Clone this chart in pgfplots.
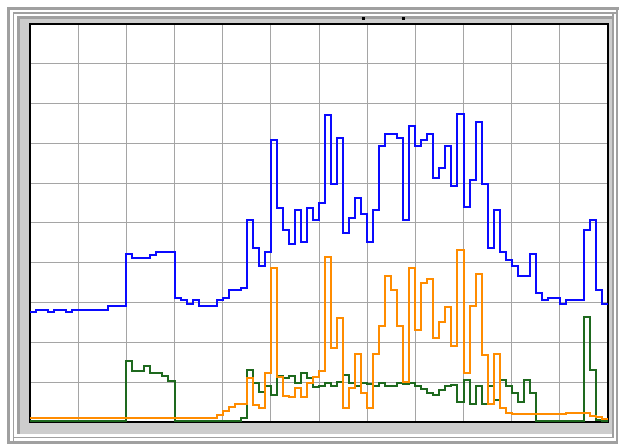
\documentclass[border=0pt]{standalone}
\usepackage{pgfplots}
\usepackage{pgfplotstable}
\pgfplotsset{compat=1.18}
\definecolor{cblue}{RGB}{10,10,255}
\definecolor{corange}{RGB}{255,140,0}
\definecolor{cgreen}{RGB}{30,105,30}
\definecolor{fgray}{RGB}{160,160,160}
\definecolor{pgray}{RGB}{205,205,205}
\definecolor{ggray}{RGB}{165,165,165}

\pgfplotstableread{
x y
0 27.7
1 28.1
2 28.1
3 27.7
4 28.1
5 28.1
6 27.7
7 28.1
8 28.1
9 28.1
10 28.1
11 28.1
12 28.1
13 29.1
14 29.1
15 29.1
16 42.2
17 41.3
18 41.3
19 41.3
20 42.0
21 42.6
22 42.6
23 42.6
24 31.1
25 30.7
26 29.6
27 30.7
28 29.1
29 29.1
30 29.1
31 30.7
32 31.1
33 33.2
34 33.2
35 33.6
36 50.8
37 43.8
38 39.3
39 42.6
40 70.9
41 53.7
42 48.2
43 44.7
44 53.3
45 45.1
46 53.7
47 50.8
48 55.1
49 77.1
50 59.7
51 71.3
52 47.6
53 51.2
54 56.2
55 52.2
56 45.2
57 53.3
58 69.3
59 72.4
60 72.4
61 71.4
62 50.8
63 74.4
64 69.4
65 70.9
66 72.4
67 61.2
68 63.9
69 69.3
70 59.3
71 77.4
72 54.1
73 60.8
74 75.3
75 59.7
76 43.8
77 53.3
78 42.6
79 40.7
80 39.3
81 36.8
82 36.8
83 42.2
84 32.3
85 30.7
86 31.1
87 31.1
88 29.6
89 30.7
90 30.7
91 30.7
92 48.2
93 50.8
94 33.2
95 29.6
96 29.6
}\blueseries

\pgfplotstableread{
x y
0 0.9
30 0.9
31 1.8
32 2.8
33 3.7
34 4.4
35 4.4
36 11.0
37 4.3
38 3.4
39 12.4
40 38.6
41 11.4
42 6.5
43 6.2
44 8.6
45 6.4
46 9.7
47 11.4
48 12.9
49 41.5
50 18.5
51 26.1
52 3.4
53 8.5
54 17.0
55 7.3
56 3.4
57 17.0
58 24.0
59 36.6
60 33.1
61 24.0
62 10.0
63 38.6
64 23.1
65 35.0
66 35.9
67 21.0
68 25.2
69 29.0
70 19.1
71 43.2
72 12.2
73 29.2
74 37.1
75 16.8
76 4.4
77 17.0
78 3.4
79 2.2
80 1.9
88 1.9
89 2.3
92 2.3
93 1.6
94 1.2
95 0.8
96 0.8
}\orangeseries

\pgfplotstableread{
x y
0 0.3
15 0.3
16 15.4
17 12.8
18 12.8
19 14.0
20 12.2
21 12.2
22 11.6
23 10.4
24 0.3
34 0.3
35 1.0
36 13.1
37 9.7
38 7.6
39 9.1
40 6.8
41 11.6
42 11.1
43 11.6
44 9.7
45 12.4
46 11.0
47 8.9
48 9.0
49 9.7
50 9.1
51 10.1
52 11.8
53 9.9
54 9.1
55 9.9
56 9.5
57 9.1
58 9.9
59 9.1
60 9.1
61 9.9
62 9.5
63 9.9
64 9.1
65 8.2
66 7.4
67 6.8
68 8.0
69 9.1
70 9.2
71 5.0
72 10.5
73 4.6
74 9.1
75 4.5
76 9.1
77 5.5
78 10.5
79 9.1
80 7.3
81 5.0
82 10.5
83 7.2
84 0.3
91 0.3
92 26.5
93 13.0
94 0.6
95 0.3
96 0.3
}\greenseries

\begin{document}
\begin{tikzpicture}[x=1pt,y=1pt]
\useasboundingbox (0,0) rectangle (619,444);
\fill[white] (0,0) rectangle (619,444);
% outer frame lines
\draw[fgray, line width=2.5pt] (8.5,-2) -- (8.5,435.5) -- (640,435.5);
\draw[fgray, line width=2.5pt] (8.5,1.5) -- (617,1.5) -- (617,435.5);
\draw[fgray, line width=1.6pt] (13.5,3) -- (13.5,431) -- (618,431);
\draw[fgray, line width=1.6pt] (13.5,6.5) -- (613,6.5) -- (613,431);
% panel
\fill[pgray] (17,10) rectangle (612,428);
\draw[fgray, line width=2.5pt] (18.5,10) -- (18.5,426.5) -- (612,426.5);
\begin{axis}[
  at={(30pt,22pt)}, anchor=south west,
  scale only axis, width=578pt, height=398pt,
  xmin=0, xmax=96, ymin=0, ymax=100,
  xtick={0,8,...,96}, ytick={0,10,...,100},
  xticklabels={}, yticklabels={},
  major tick length=0pt,
  grid=major,
  grid style={ggray, line width=1pt},
  axis line style={black, line width=2pt},
  axis background/.style={fill=white},
]
\addplot[const plot, cgreen, line width=2pt] table[x=x,y=y] {\greenseries};
\addplot[const plot, corange, line width=2pt] table[x=x,y=y] {\orangeseries};
\addplot[const plot, cblue, line width=2pt] table[x=x,y=y] {\blueseries};
\end{axis}
\fill[black] (362,424) rectangle (364.5,426.5);
\fill[black] (402,424) rectangle (404.5,426.5);
\end{tikzpicture}
\end{document}
